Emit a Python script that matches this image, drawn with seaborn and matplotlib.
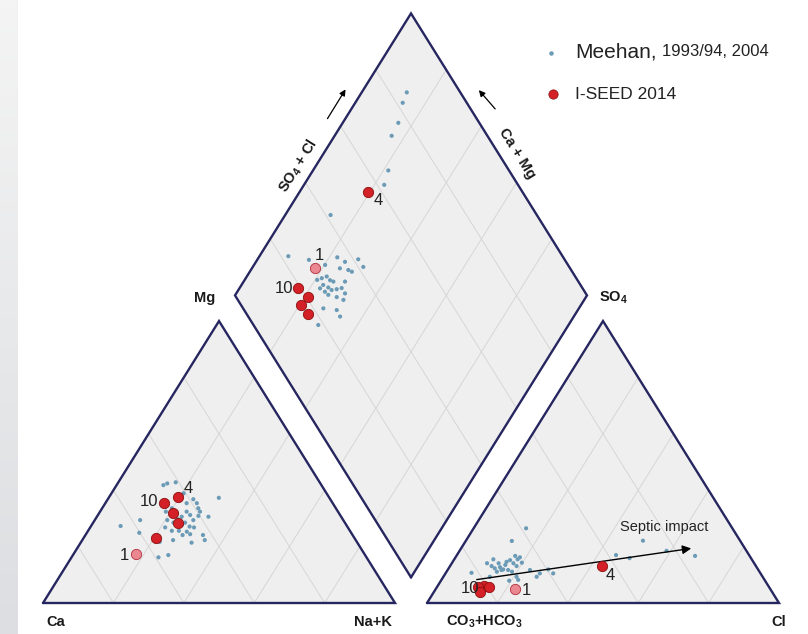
import numpy as np
import pandas as pd
import matplotlib
matplotlib.use("Agg")
import matplotlib.pyplot as plt
import seaborn as sns

# ---------------- data (percent of meq) ----------------
# I-SEED 2014 samples
iseed_id = ["1", "4", "10", "", "", ""]
iseed_mg = [17.4, 37.5, 35.4, 31.8, 28.3, 23.2]
iseed_nak = [17.7, 19.5, 16.7, 21.1, 24.1, 20.5]
iseed_so4 = [4.9, 13.2, 6.0, 5.8, 5.8, 4.0]
iseed_cl = [22.6, 43.0, 13.3, 14.7, 11.7, 13.1]

# Meehan 1993/94, 2004 - cation triangle
meehan_mg = [41.8, 42.4, 42.8, 36.8, 35.4, 37.3, 32.4, 33.6, 35.4, 33.6, 32.4, 32.4, 31.2, 30.6,
             29.7, 29.4, 30.9, 30.6, 29.4, 28.5, 28.5, 27.1, 26.8, 26.8, 25.6, 25.6, 25.3, 24.1,
             24.4, 24.1, 22.3, 21.4, 22.3, 21.7, 29.4, 27.3, 24.9, 16.2, 17.0, 27.7, 31.8, 38.9]
meehan_nak = [13.3, 14.1, 16.3, 24.3, 26.0, 31.3, 18.7, 19.8, 23.1, 27.3, 28.4, 24.6, 26.2, 24.1,
              23.5, 28.0, 28.7, 31.7, 20.6, 22.8, 26.1, 28.1, 29.5, 21.3, 23.8, 25.8, 28.2, 27.6,
              29.6, 33.4, 34.8, 31.5, 25.8, 22.3, 12.9, 8.4, 14.9, 24.7, 27.1, 25.6, 22.1, 20.5]
# anion triangle
meehan_so4 = [26.5, 22.0, 10.7, 13.1, 12.3, 14.1, 12.7, 11.9, 13.5, 14.6, 15.2, 14.1, 16.7, 15.5,
              16.2, 14.3, 13.1, 11.7, 11.1, 11.7, 11.1, 9.3, 7.9, 9.3, 8.2, 11.7, 9.3, 10.5,
              11.9, 10.5, 17.0, 15.9, 22.1, 18.5, 16.7, 14.1, 15.5]
meehan_cl = [14.9, 13.1, 7.3, 11.8, 13.1, 13.3, 14.4, 15.7, 15.5, 15.3, 16.0, 17.5, 16.7, 18.0,
             18.3, 19.8, 18.9, 17.2, 18.6, 15.3, 14.3, 13.2, 19.4, 20.8, 21.8, 23.4, 26.5, 26.8,
             28.5, 30.6, 45.2, 49.6, 50.3, 58.8, 67.8, 10.0, 11.1]
# diamond
meehan_so4cl = [22.1, 27.3, 31.0, 35.8, 37.2, 41.4, 41.5, 34.6, 36.7, 37.4, 26.1, 27.7, 29.4, 29.7,
                30.4, 26.9, 27.9, 28.4, 30.0, 25.4, 26.2, 26.6, 33.7, 31.6, 31.6, 28.6, 30.0, 22.8,
                26.3, 26.1, 18.4, 41.4, 62.0, 65.7, 72.8, 77.0, 81.8, 84.8]
meehan_camg = [91.8, 85.3, 79.8, 77.7, 74.7, 71.4, 68.6, 75.0, 72.3, 71.0, 79.4, 78.4, 77.3, 75.7,
               74.5, 76.8, 74.9, 73.5, 72.2, 77.1, 75.1, 73.6, 71.2, 71.0, 69.1, 70.8, 68.4, 72.6,
               68.5, 66.4, 71.1, 87.1, 77.2, 78.6, 83.8, 84.2, 86.5, 87.2]

cation_labels = ["Ca", "Na+K", "Mg"]
anion_labels = ["CO$_\\mathbf{3}$+HCO$_\\mathbf{3}$", "Cl", "SO$_\\mathbf{4}$"]
legend_labels = ["Meehan,", "1993/94, 2004", "I-SEED 2014"]

# ---------------- geometry ----------------
S = 100.0
GAP = 9.09
H = np.sqrt(3) / 2
OUT = "#262660"
FILL = "#efefef"
GRID = "#d6d6d6"
BLUE = "#6b9bb6"
RED = "#d42027"
PINK = "#ea8791"


def tri_pt(P, u, v):
    P0, P1, P2 = [np.array(p) for p in P]
    return P0 + np.multiply.outer(u, P1 - P0) + np.multiply.outer(v, P2 - P0)


def cat_xy(mg, nak):
    mg = np.asarray(mg, float) / 100
    nak = np.asarray(nak, float) / 100
    return S * (nak + mg / 2), S * H * mg


def an_xy(so4, cl):
    so4 = np.asarray(so4, float) / 100
    cl = np.asarray(cl, float) / 100
    return S + GAP + S * (cl + so4 / 2), S * H * so4


BX, BY = S + GAP / 2, GAP / 2 * np.sqrt(3)


def dia_xy(a, c):
    a = np.asarray(a, float) / 100
    c = np.asarray(c, float) / 100
    return BX + S / 2 * (a - c), BY + S * H * (a + c)


def px(x, y):
    return (x - 43) / 3.52, (603 - y) / 3.256


fig = plt.figure(figsize=(8.08, 6.34), dpi=100)
sns.set_theme(style="white")
plt.rcParams["font.family"] = ["Liberation Sans", "DejaVu Sans"]
plt.rcParams["mathtext.fontset"] = "custom"
plt.rcParams["mathtext.rm"] = "Liberation Sans"
plt.rcParams["mathtext.bf"] = "Liberation Sans:bold"

# left grey strip
bg = fig.add_axes([0, 0, 18 / 808, 1])
grad = np.linspace(0, 1, 200)[:, None] * np.ones((1, 10))
bg.imshow(grad, aspect="auto", cmap=matplotlib.colors.LinearSegmentedColormap.from_list(
    "g", ["#f4f4f4", "#dcdee1"]), extent=[0, 1, 0, 1], origin="upper")
bg.axis("off")

ax = fig.add_axes([0, 0, 1, 1])
ax.set_xlim(-12.22, 217.33)
ax.set_ylim(-9.52, 185.2)
ax.axis("off")

cat_tri = [(0, 0), (S, 0), (S / 2, S * H)]
an_tri = [(S + GAP, 0), (2 * S + GAP, 0), (1.5 * S + GAP, S * H)]
dB = (BX, BY)
dL = (BX - S / 2, BY + S * H)
dT = (BX, BY + 2 * S * H)
dR = (BX + S / 2, BY + S * H)

fr = np.array([0.2, 0.4, 0.6, 0.8])
for tri in (cat_tri, an_tri):
    xs = [p[0] for p in tri] + [tri[0][0]]
    ys = [p[1] for p in tri] + [tri[0][1]]
    ax.fill(xs, ys, color=FILL, zorder=1, lw=0)
    for f in fr:
        for (u0, v0, u1, v1) in [(f, 0, f, 1 - f), (1 - f, 0, 0, 1 - f)]:
            p0 = tri_pt(tri, u0, v0)
            p1 = tri_pt(tri, u1, v1)
            ax.plot([p0[0], p1[0]], [p0[1], p1[1]], color=GRID, lw=0.7, zorder=2)
    ax.plot(xs, ys, color=OUT, lw=1.7, zorder=3, solid_joinstyle="miter")

dx = [dB[0], dL[0], dT[0], dR[0], dB[0]]
dy = [dB[1], dL[1], dT[1], dR[1], dB[1]]
ax.fill(dx, dy, color=FILL, zorder=1, lw=0)
for f in fr:
    x0, y0 = dia_xy(f * 100, 0)
    x1, y1 = dia_xy(f * 100, 100)
    ax.plot([x0, x1], [y0, y1], color=GRID, lw=0.7, zorder=2)
    x0, y0 = dia_xy(0, f * 100)
    x1, y1 = dia_xy(100, f * 100)
    ax.plot([x0, x1], [y0, y1], color=GRID, lw=0.7, zorder=2)
ax.plot(dx, dy, color=OUT, lw=1.7, zorder=3, solid_joinstyle="miter")

# ---------------- Meehan points ----------------
mx, my = cat_xy(meehan_mg, meehan_nak)
ax2x, ax2y = an_xy(meehan_so4, meehan_cl)
dmx, dmy = dia_xy(meehan_so4cl, meehan_camg)
meehan = pd.DataFrame({"x": np.concatenate([mx, ax2x, dmx]),
                       "y": np.concatenate([my, ax2y, dmy])})
sns.scatterplot(data=meehan, x="x", y="y", ax=ax, s=9, color=BLUE, edgecolor="none",
                zorder=4, legend=False)

# ---------------- I-SEED points ----------------
iseed_camg = [100 - v for v in iseed_nak]
iseed_so4cl = [a + b for a, b in zip(iseed_so4, iseed_cl)]
cx, cy = cat_xy(iseed_mg, iseed_nak)
axx, axy = an_xy(iseed_so4, iseed_cl)
ddx, ddy = dia_xy(iseed_so4cl, iseed_camg)
rows = []
for i, sid in enumerate(iseed_id):
    for panel, X, Y in (("cat", cx, cy), ("an", axx, axy), ("dia", ddx, ddy)):
        rows.append({"id": sid, "panel": panel, "x": X[i], "y": Y[i],
                     "grp": "one" if sid == "1" else "other"})
iseed = pd.DataFrame(rows)
sns.scatterplot(data=iseed[iseed.grp == "other"], x="x", y="y", ax=ax, s=55, color=RED,
                edgecolor="#8a1010", linewidth=0.6, zorder=6, legend=False)
sns.scatterplot(data=iseed[iseed.grp == "one"], x="x", y="y", ax=ax, s=55, color=PINK,
                edgecolor="#b0303c", linewidth=0.6, zorder=6, legend=False)

label_offsets = {
    ("cat", "1"): (-5, -1, "right"), ("cat", "10"): (-4, 1, "right"), ("cat", "4"): (4, 6, "left"),
    ("dia", "1"): (0, 9, "left"), ("dia", "10"): (-4, 0, "right"), ("dia", "4"): (4, -6, "left"),
    ("an", "1"): (5, -1, "left"), ("an", "10"): (-4, -2, "right"), ("an", "4"): (3, -7, "left"),
}
for _, r in iseed.iterrows():
    key = (r.panel, r.id)
    if key in label_offsets:
        ox, oy, ha = label_offsets[key]
        ax.annotate(r.id, (r.x, r.y), xytext=(ox, oy), textcoords="offset points",
                    ha=ha, va="center", fontsize=12, color="#222222", zorder=7)

# ---------------- corner labels ----------------
lab_kw = dict(fontsize=10.5, fontweight="bold", color="#1a1a1a", ha="center", va="center")
ax.text(*px(56, 622), cation_labels[0], **lab_kw)
ax.text(*px(373, 622), cation_labels[1], **lab_kw)
ax.text(*px(205, 298), cation_labels[2], **lab_kw)
ax.text(*px(484, 622), anion_labels[0], **lab_kw)
ax.text(*px(779, 622), anion_labels[1], **lab_kw)
ax.text(*px(613, 298), anion_labels[2], **lab_kw)

ax.text(*px(298, 166), "SO$_\\mathbf{4}$ + Cl", rotation=58, rotation_mode="anchor", **lab_kw)
ax.text(*px(517, 153), "Ca + Mg", rotation=-58, rotation_mode="anchor", **lab_kw)
ax.annotate("", xy=px(347, 87), xytext=px(326, 121),
            arrowprops=dict(arrowstyle="-|>", color="black", lw=0.9, mutation_scale=9))
ax.annotate("", xy=px(477, 88), xytext=px(497, 111),
            arrowprops=dict(arrowstyle="-|>", color="black", lw=0.9, mutation_scale=9))

# septic impact arrow
ax.annotate("", xy=px(694, 548), xytext=px(474, 580),
            arrowprops=dict(arrowstyle="-|>", color="black", lw=1.0, mutation_scale=13),
            zorder=5)
ax.text(*px(664, 527), "Septic impact", fontsize=10.5, color="#222222", ha="center", va="center")

# ---------------- legend ----------------
ax.scatter(*px(551, 53), s=5, color=BLUE, zorder=6)
t1 = ax.text(*px(575, 52), legend_labels[0], fontsize=15, color="#222222", ha="left",
             va="center")
ax.annotate(legend_labels[1], xy=(1, 0), xycoords=t1, xytext=(4, 1.5),
            textcoords="offset points", fontsize=12, color="#222222", ha="left", va="bottom")
ax.scatter(*px(553, 94), s=45, color=RED, edgecolor="#8a1010", lw=0.5, zorder=6)
ax.text(*px(575, 94), legend_labels[2], fontsize=12.5, color="#222222", ha="left", va="center")

fig.savefig("out.png", dpi=100)
